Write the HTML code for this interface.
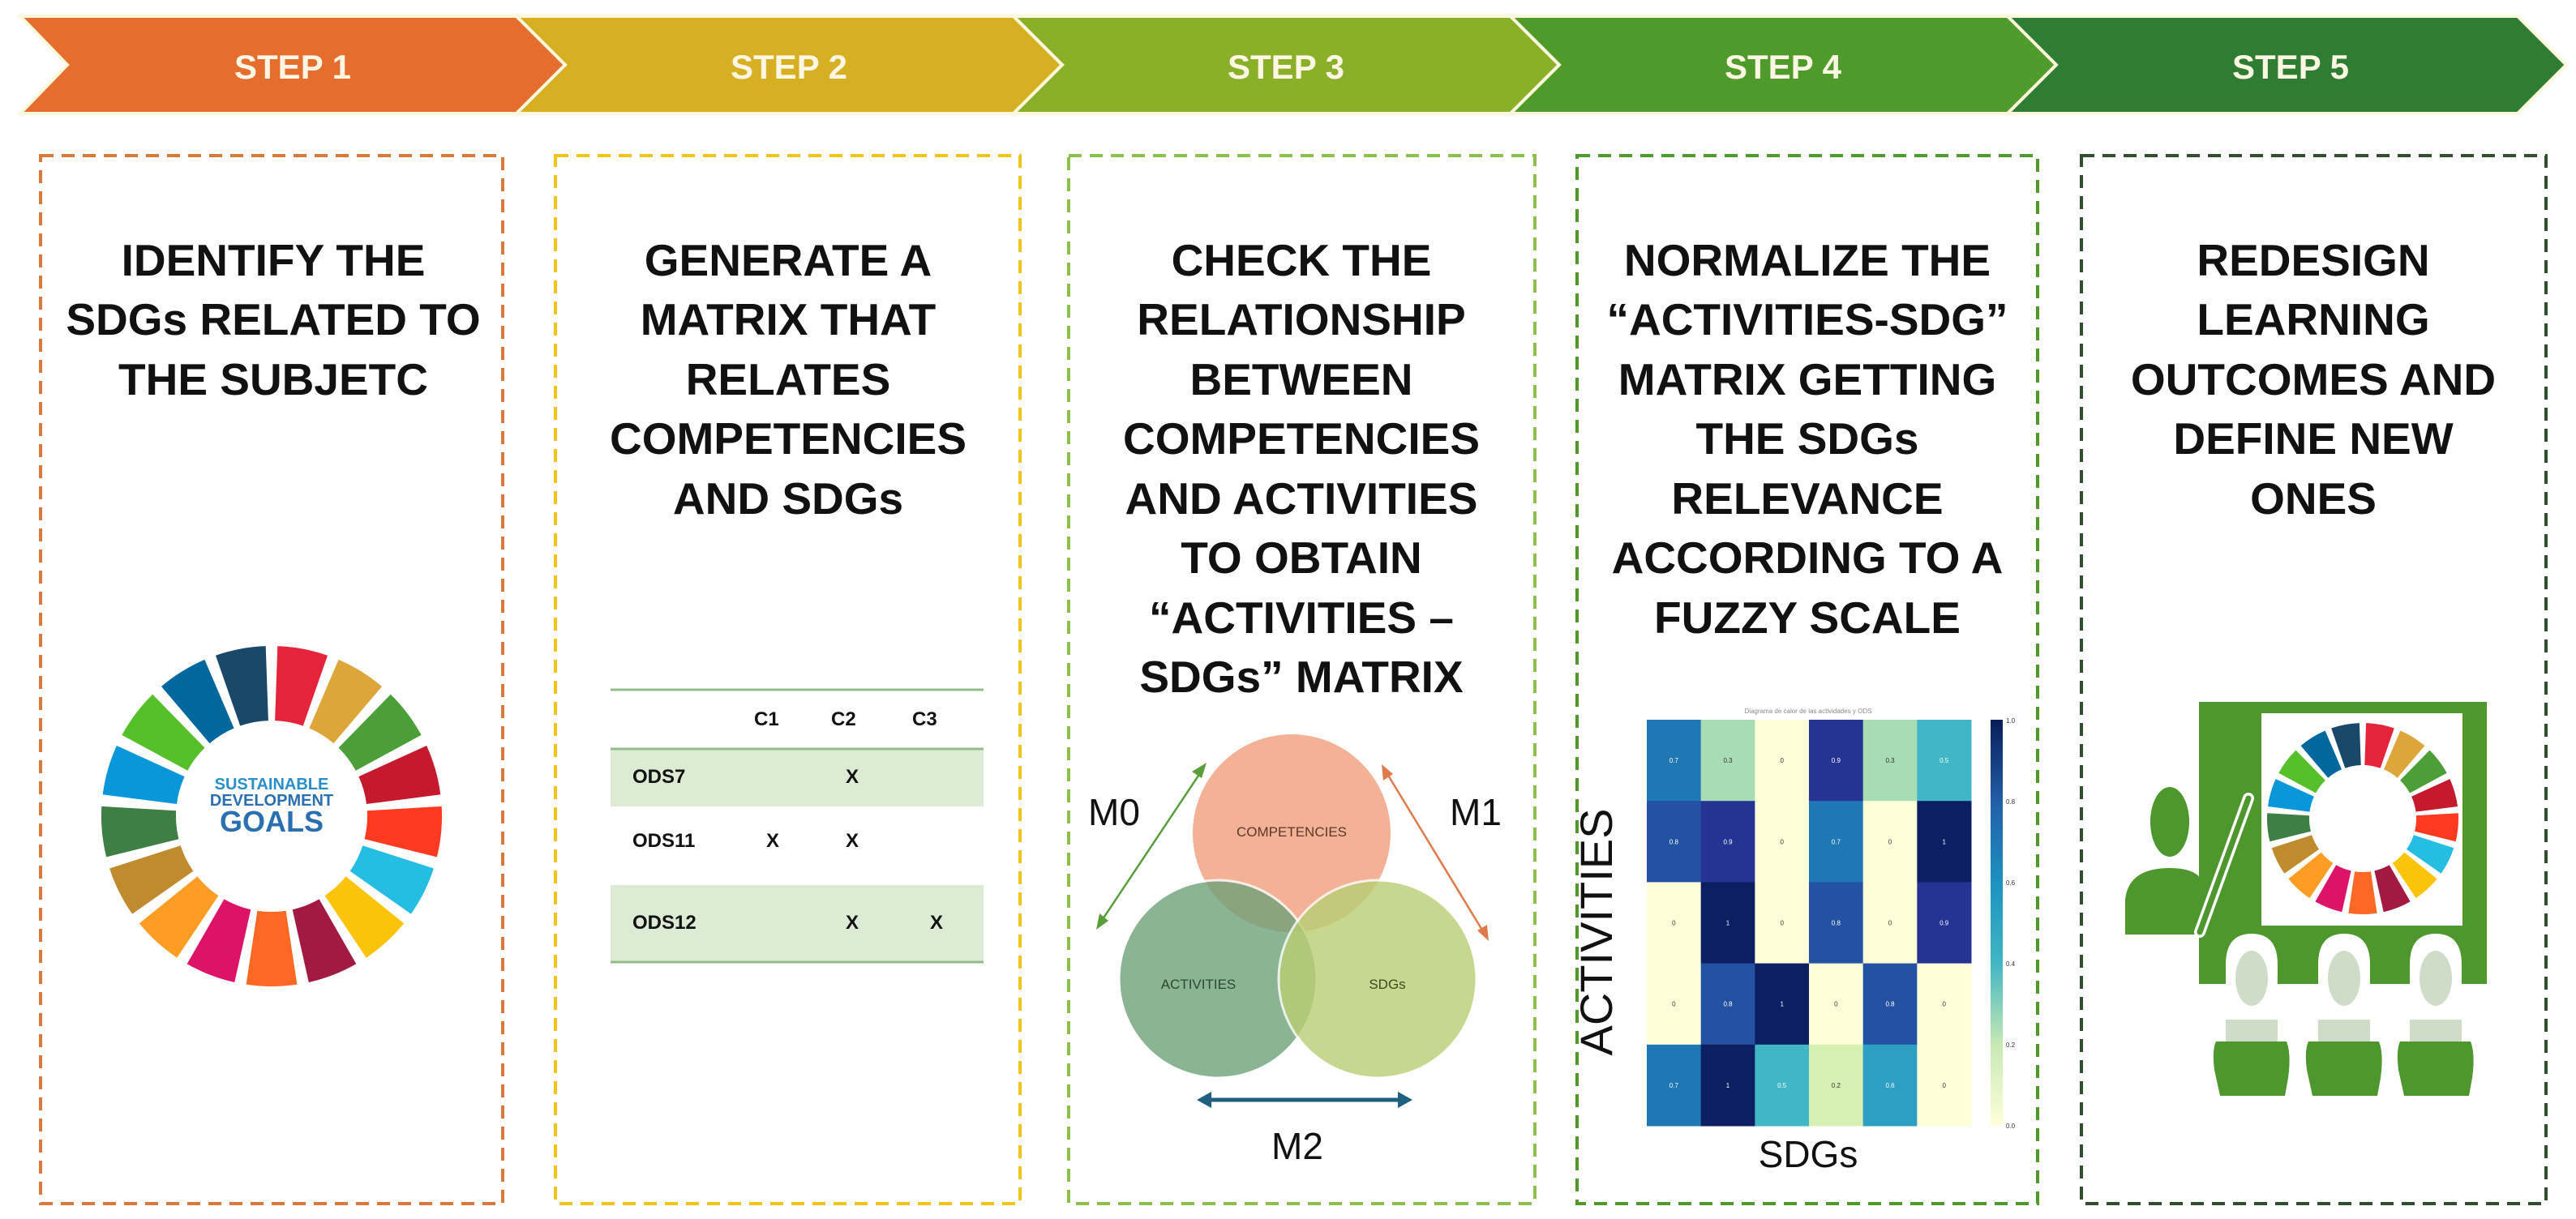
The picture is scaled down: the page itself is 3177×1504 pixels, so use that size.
<!DOCTYPE html>
<html><head><meta charset="utf-8">
<style>
html,body{margin:0;padding:0;background:#fff;}
svg{display:block;font-family:"Liberation Sans",sans-serif;}
.t{font-weight:bold;font-size:55px;fill:#111;text-anchor:middle;}
.s{font-weight:bold;font-size:42px;fill:#FFF6E4;text-anchor:middle;}
.tb{font-weight:bold;font-size:24px;fill:#111;}
</style></head>
<body>
<svg id="svg" width="3177" height="1504" viewBox="0 0 3177 1504" xmlns="http://www.w3.org/2000/svg">
<rect width="3177" height="1504" fill="#fff"/>
<defs>
<linearGradient id="cb" x1="0" y1="0" x2="0" y2="1">
<stop offset="0" stop-color="#081d58"/><stop offset="0.2" stop-color="#225ea8"/><stop offset="0.4" stop-color="#1d91c0"/><stop offset="0.6" stop-color="#41b6c4"/><stop offset="0.8" stop-color="#c7e9b4"/><stop offset="1" stop-color="#ffffd9"/>
</linearGradient>
</defs>
<g stroke="#FFF8DC" stroke-width="4">
<polygon points="25,20 637,20 697,80 637,140 25,140 83,80" fill="#E56E2E"/>
<polygon points="637,20 1250,20 1310,80 1250,140 637,140 697,80" fill="#D6AF22"/>
<polygon points="1250,20 1863,20 1923,80 1863,140 1250,140 1310,80" fill="#8AB02A"/>
<polygon points="1863,20 2476,20 2536,80 2476,140 1863,140 1923,80" fill="#4E9A2A"/>
<polygon points="2476,20 3105,20 3165,80 3105,140 2476,140 2536,80" fill="#2E7D32"/>
</g>
<text class="s" x="361" y="97">STEP 1</text>
<text class="s" x="973" y="97">STEP 2</text>
<text class="s" x="1586" y="97">STEP 3</text>
<text class="s" x="2199" y="97">STEP 4</text>
<text class="s" x="2825" y="97">STEP 5</text>
<g fill="none" stroke-width="4" stroke-dasharray="16 10">
<rect x="50" y="192" width="570" height="1293" stroke="#D9793C"/>
<rect x="685" y="192" width="573" height="1293" stroke="#F0C419"/>
<rect x="1318" y="192" width="575" height="1293" stroke="#8DC04A"/>
<rect x="1945" y="192" width="568" height="1293" stroke="#4E9A2A"/>
<rect x="2567" y="192" width="573" height="1293" stroke="#2F4F2F"/>
</g>
<g class="t">
<text x="337" y="340">IDENTIFY THE</text><text x="337" y="413">SDGs RELATED TO</text><text x="337" y="487">THE SUBJETC</text>
<text x="972" y="340">GENERATE A</text><text x="972" y="413">MATRIX THAT</text><text x="972" y="487">RELATES</text><text x="972" y="560">COMPETENCIES</text><text x="972" y="634">AND SDGs</text>
<text x="1605" y="340">CHECK THE</text><text x="1605" y="413">RELATIONSHIP</text><text x="1605" y="487">BETWEEN</text><text x="1605" y="560">COMPETENCIES</text><text x="1605" y="634">AND ACTIVITIES</text><text x="1605" y="707">TO OBTAIN</text><text x="1605" y="781">“ACTIVITIES –</text><text x="1605" y="854">SDGs” MATRIX</text>
<text x="2229" y="340">NORMALIZE THE</text><text x="2229" y="413">“ACTIVITIES-SDG”</text><text x="2229" y="487">MATRIX  GETTING</text><text x="2229" y="560">THE SDGs</text><text x="2229" y="634">RELEVANCE</text><text x="2229" y="707">ACCORDING TO A</text><text x="2229" y="781">FUZZY SCALE</text>
<text x="2853" y="340">REDESIGN</text><text x="2853" y="413">LEARNING</text><text x="2853" y="487">OUTCOMES AND</text><text x="2853" y="560">DEFINE NEW</text><text x="2853" y="634">ONES</text>
</g>
<g id="w1"></g>
<text x="335" y="974" text-anchor="middle" font-weight="bold" font-size="20" fill="#2A8FC9">SUSTAINABLE</text>
<text x="335" y="994" text-anchor="middle" font-weight="bold" font-size="20" fill="#2A6FB0">DEVELOPMENT</text>
<text x="335" y="1026" text-anchor="middle" font-weight="bold" font-size="36" fill="#2A6FB0">GOALS</text>
<rect x="753" y="923" width="460" height="72" fill="#DCEBD4"/>
<rect x="753" y="1092" width="460" height="95" fill="#DCEBD4"/>
<g stroke="#94BC8A" stroke-width="3"><line x1="753" y1="851" x2="1213" y2="851"/><line x1="753" y1="924" x2="1213" y2="924"/><line x1="753" y1="1187" x2="1213" y2="1187"/></g>
<g class="tb">
<text x="930" y="895">C1</text><text x="1025" y="895">C2</text><text x="1125" y="895">C3</text>
<text x="780" y="966">ODS7</text><text x="1043" y="966">X</text>
<text x="780" y="1045">ODS11</text><text x="945" y="1045">X</text><text x="1043" y="1045">X</text>
<text x="780" y="1146">ODS12</text><text x="1043" y="1146">X</text><text x="1147" y="1146">X</text>
</g>
<circle cx="1593" cy="1028" r="122" fill="#F2A98A" opacity="0.9"/>
<circle cx="1502" cy="1208" r="122" fill="#6FA27A" opacity="0.8" stroke="#fff" stroke-width="3"/>
<circle cx="1699" cy="1208" r="122" fill="#B9CE74" opacity="0.8" stroke="#fff" stroke-width="3"/>
<text x="1593" y="1032" text-anchor="middle" font-size="17" fill="#5A3A2A">COMPETENCIES</text>
<text x="1478" y="1220" text-anchor="middle" font-size="17" fill="#2A4A30">ACTIVITIES</text>
<text x="1711" y="1220" text-anchor="middle" font-size="17" fill="#3A4A20">SDGs</text>
<text x="1374" y="1018" text-anchor="middle" font-size="46" fill="#111">M0</text>
<text x="1820" y="1018" text-anchor="middle" font-size="46" fill="#111">M1</text>
<text x="1600" y="1430" text-anchor="middle" font-size="46" fill="#111">M2</text>
<g stroke-width="2.5">
<line x1="1356" y1="1140" x2="1484" y2="948" stroke="#5A9E3A"/>
<polygon points="1488,941 1470,952 1482,960" fill="#5A9E3A"/>
<polygon points="1352,1147 1356,1127 1367,1136" fill="#5A9E3A"/>
<line x1="1708" y1="950" x2="1832" y2="1154" stroke="#E07A4A"/>
<polygon points="1704,943 1706,963 1718,955" fill="#E07A4A"/>
<polygon points="1836,1161 1822,1148 1834,1141" fill="#E07A4A"/>
<line x1="1490" y1="1357" x2="1728" y2="1357" stroke="#1F5F7F" stroke-width="5"/>
<polygon points="1476,1357 1494,1347 1494,1367" fill="#1F5F7F"/>
<polygon points="1742,1357 1724,1347 1724,1367" fill="#1F5F7F"/>
</g>
<text x="2230" y="880" text-anchor="middle" font-size="8" fill="#888">Diagrama de calor de las actividades y ODS</text>
<g id="hm"></g>
<rect x="2455" y="888" width="15" height="501" fill="url(#cb)"/>
<g font-size="8" fill="#333">
<text x="2474" y="892">1.0</text><text x="2474" y="992">0.8</text><text x="2474" y="1092">0.6</text><text x="2474" y="1192">0.4</text><text x="2474" y="1292">0.2</text><text x="2474" y="1392">0.0</text>
</g>
<text transform="translate(1988,1150) rotate(-90)" text-anchor="middle" font-size="56" fill="#111">ACTIVITIES</text>
<text x="2230" y="1440" text-anchor="middle" font-size="46" fill="#111">SDGs</text>
<rect x="2712" y="866" width="355" height="348" fill="#4E962E"/>
<rect x="2789" y="880" width="248" height="262" fill="#fff"/>
<g id="w2"></g>
<ellipse cx="2676" cy="1014" rx="24" ry="43" fill="#4E962E"/>
<path d="M2621,1153 L2621,1110 Q2625,1071 2676,1071 Q2706,1071 2715,1085 L2713,1153 Z" fill="#4E962E"/>
<line x1="2713" y1="1150" x2="2773" y2="985" stroke="#fff" stroke-width="14" stroke-linecap="round"/>
<line x1="2713" y1="1150" x2="2773" y2="985" stroke="#4E962E" stroke-width="7" stroke-linecap="round"/>
<g>
<path d="M2745,1214 L2745,1190 Q2745,1152 2777,1152 Q2809,1152 2809,1190 L2809,1214 Z" fill="#fff"/>
<path d="M2859,1214 L2859,1190 Q2859,1152 2891,1152 Q2923,1152 2923,1190 L2923,1214 Z" fill="#fff"/>
<path d="M2972,1214 L2972,1190 Q2972,1152 3004,1152 Q3036,1152 3036,1190 L3036,1214 Z" fill="#fff"/>
</g>
<g fill="#CFDCC8">
<ellipse cx="2777" cy="1207" rx="20" ry="34"/><ellipse cx="2891" cy="1207" rx="20" ry="34"/><ellipse cx="3004" cy="1207" rx="20" ry="34"/>
<rect x="2745" y="1258" width="64" height="30"/><rect x="2859" y="1258" width="64" height="30"/><rect x="2972" y="1258" width="64" height="30"/>
</g>
<g fill="#4E962E">
<path d="M2733,1285 L2820,1285 Q2826,1300 2822,1330 L2818,1352 L2738,1352 L2731,1320 Q2728,1295 2733,1285Z"/>
<path d="M2847,1285 L2934,1285 Q2940,1300 2936,1330 L2932,1352 L2852,1352 L2845,1320 Q2842,1295 2847,1285Z"/>
<path d="M2960,1285 L3047,1285 Q3053,1300 3049,1330 L3045,1352 L2965,1352 L2958,1320 Q2955,1295 2960,1285Z"/>
</g>
<script>
(function(){
var NS="http://www.w3.org/2000/svg";
var cols=["#E5243B","#DDA63A","#4C9F38","#C5192D","#FF3A21","#26BDE2","#FCC30B","#A21942","#FD6925","#DD1367","#FD9D24","#BF8B2E","#3F7E44","#0A97D9","#56C02B","#00689D","#19486A"];
function wheel(id,cx,cy,ro,ri,gapDeg){
 var g=document.getElementById(id);var st=360/17;
 for(var i=0;i<17;i++){
  var a0=(i*st+gapDeg/2-90)*Math.PI/180,a1=((i+1)*st-gapDeg/2-90)*Math.PI/180;
  var p=function(r,a){return (cx+r*Math.cos(a)).toFixed(1)+","+(cy+r*Math.sin(a)).toFixed(1);};
  var d="M"+p(ri,a0)+" L"+p(ro,a0)+" A"+ro+","+ro+" 0 0 1 "+p(ro,a1)+" L"+p(ri,a1)+" A"+ri+","+ri+" 0 0 0 "+p(ri,a0)+"Z";
  var e=document.createElementNS(NS,"path");e.setAttribute("d",d);e.setAttribute("fill",cols[i]);g.appendChild(e);
 }
}
wheel("w1",335,1007,210,118,4);
wheel("w2",2914,1010,118,66,4);
var vals=[[0.7,0.3,0,0.9,0.3,0.5],[0.8,0.9,0,0.7,0,1],[0,1,0,0.8,0,0.9],[0,0.8,1,0,0.8,0],[0.7,1,0.5,0.2,0.6,0]];
var cm={"0":"#FEFFD8","0.2":"#D6EFB2","0.3":"#A8DCB5","0.5":"#41B6C4","0.6":"#2C9FC3","0.7":"#1F78B4","0.8":"#2352A2","0.9":"#253494","1":"#0C1F62"};
var hm=document.getElementById("hm");var cw=400/6,rh=501/5;
for(var r=0;r<5;r++)for(var c=0;c<6;c++){
 var v=vals[r][c];var x=2031+c*cw,y=888+r*rh;
 var e=document.createElementNS(NS,"rect");e.setAttribute("x",x);e.setAttribute("y",y);e.setAttribute("width",cw+0.5);e.setAttribute("height",rh+0.5);e.setAttribute("fill",cm[String(v)]);hm.appendChild(e);
 var t=document.createElementNS(NS,"text");t.setAttribute("x",x+cw/2);t.setAttribute("y",y+rh/2+3);t.setAttribute("text-anchor","middle");t.setAttribute("font-size","8");t.setAttribute("fill",v>=0.5?"#fff":"#333");t.textContent=String(v);hm.appendChild(t);
}
})();
</script>
</svg>
</body></html>
